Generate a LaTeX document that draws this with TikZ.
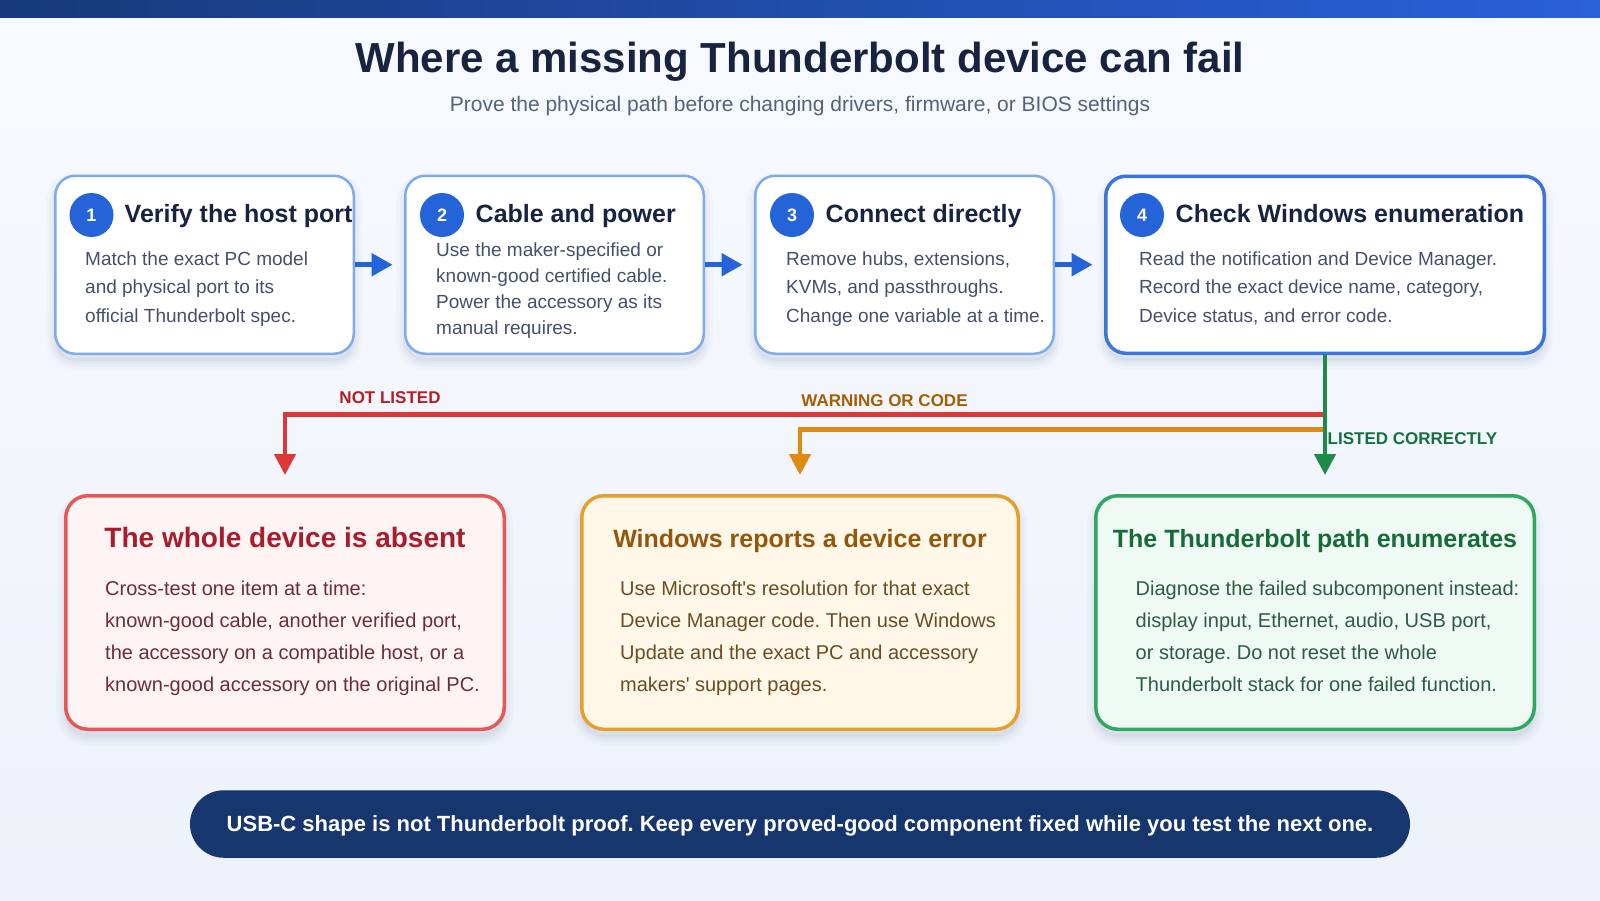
\documentclass[tikz,border=0pt]{standalone}
\usepackage{fontspec}
\setmainfont{Liberation Sans}
\usetikzlibrary{arrows.meta,calc}
\frenchspacing

\definecolor{ink}{HTML}{182340}
\definecolor{muted}{HTML}{56627A}
\definecolor{bodygray}{HTML}{44506A}
\definecolor{stepblue}{HTML}{2563D9}
\definecolor{edgelight}{HTML}{7EAAEE}
\definecolor{edgestrong}{HTML}{3A75DB}
\definecolor{failred}{HTML}{DC3838}
\definecolor{failredtxt}{HTML}{B51F24}
\definecolor{warnorange}{HTML}{DF8A12}
\definecolor{warntxt}{HTML}{A35E06}
\definecolor{okgreen}{HTML}{1E8A4A}
\definecolor{oktxt}{HTML}{15703C}
\definecolor{absentedge}{HTML}{E65757}
\definecolor{absentfill}{HTML}{FFF4F4}
\definecolor{absenttitle}{HTML}{A81D2E}
\definecolor{absentbody}{HTML}{6B2D38}
\definecolor{erroredge}{HTML}{E69F2E}
\definecolor{errorfill}{HTML}{FFF8E8}
\definecolor{errortitle}{HTML}{94560A}
\definecolor{errorbody}{HTML}{6A4D22}
\definecolor{enumedge}{HTML}{2EA862}
\definecolor{enumfill}{HTML}{EEFAF3}
\definecolor{enumtitle}{HTML}{176B3A}
\definecolor{enumbody}{HTML}{2F5B43}
\definecolor{bannerblue}{HTML}{17366E}
\definecolor{barleft}{HTML}{163A7A}
\definecolor{barright}{HTML}{2A60DA}
\definecolor{bgtop}{HTML}{F7FAFF}
\definecolor{bgbottom}{HTML}{EDF2FA}
\definecolor{shadowink}{HTML}{2A3F6A}

\begin{document}
\begin{tikzpicture}[x=1pt,y=-1pt,
  softshadow/.style={
      preaction={draw=shadowink, draw opacity=0.025, line width=18pt, transform canvas={yshift=-7pt}},
      preaction={draw=shadowink, draw opacity=0.03, line width=11pt, transform canvas={yshift=-7pt}},
      preaction={draw=shadowink, draw opacity=0.035, line width=5pt, transform canvas={yshift=-7pt}},
      preaction={fill=shadowink, fill opacity=0.04, transform canvas={yshift=-7pt}}},
  stepcard/.style={draw=edgelight, line width=2.5pt, fill=white,
      rounded corners=20pt, inner sep=0pt, softshadow,
      minimum width=298.5pt, minimum height=178pt},
  outcome/.style={line width=3.5pt, rounded corners=22pt, inner sep=0pt, softshadow,
      minimum width=438.5pt, minimum height=233.5pt},
  badge/.style={circle, fill=stepblue, text=white, minimum size=44pt, inner sep=0pt,
      font=\fontsize{18}{20}\selectfont\bfseries},
  steptitle/.style={anchor=base west, inner sep=0pt, text=ink,
      font=\fontsize{25}{28}\selectfont\bfseries},
  stepbody/.style={anchor=base west, inner sep=0pt, text=bodygray,
      font=\fontsize{19}{22}\selectfont},
  outtitle/.style={anchor=base, inner sep=0pt, font=\fontsize{25}{30}\selectfont\bfseries},
  outbody/.style={anchor=base west, inner sep=0pt, font=\fontsize{20}{24}\selectfont},
  flowarrow/.style={draw=stepblue, line width=5pt,
      -{Triangle[length=21pt,width=22pt]}, shorten >=11.4pt},
  branch/.style={line width=4.5pt, -{Triangle[length=21pt,width=21pt]}, shorten >=19pt},
  branchlabel/.style={inner sep=0pt, font=\fontsize{17}{19}\selectfont\bfseries}
]
\useasboundingbox (0,0) rectangle (1600,900);

% page background and header bar
\fill[top color=bgtop, bottom color=bgbottom] (0,0) rectangle (1600,900);
\fill[left color=barleft, right color=barright] (0,0) rectangle (1600,17);

% heading
\node[anchor=base, inner sep=0pt, text=ink, font=\fontsize{42}{48}\selectfont\bfseries]
  (title) at (800,72) {Where a missing Thunderbolt device can fail};
\node[anchor=base, inner sep=0pt, text=muted, font=\fontsize{21}{24}\selectfont]
  (subtitle) at (800,111) {Prove the physical path before changing drivers, firmware, or BIOS settings};

% four check steps
\node[stepcard] (c1) at (204.5,264.75) {};
\node[stepcard] (c2) at (554.5,264.75) {};
\node[stepcard] (c3) at (904.5,264.75) {};
\node[stepcard, draw=edgestrong, line width=3.5pt, minimum width=438.5pt, minimum height=177pt]
  (c4) at (1325,264.75) {};

\node[badge] (b1) at (91.5,215) {1};
\node[badge] (b2) at (442,215) {2};
\node[badge] (b3) at (792,215) {3};
\node[badge] (b4) at (1142,215) {4};

\node[steptitle] (t1) at (124.5,222.5) {Verify the host port};
\node[steptitle] (t2) at (475.5,222.5) {Cable and power};
\node[steptitle] (t3) at (825.5,222.5) {Connect directly};
\node[steptitle] (t4) at (1175.5,222.5) {Check Windows enumeration};

\foreach \line [count=\i] in {{Match the exact PC model},{and physical port to its},{official Thunderbolt spec.}}
  \node[stepbody] (c1l\i) at (85,265+28.7*\i-28.7) {\line};
\foreach \line [count=\i] in {{Use the maker-specified or},{known-good certified cable.},{Power the accessory as its},{manual requires.}}
  \node[stepbody] (c2l\i) at (436,256.7+25.9*\i-25.9) {\line};
\foreach \line [count=\i] in {{Remove hubs, extensions,},{KVMs, and passthroughs.},{Change one variable at a time.}}
  \node[stepbody] (c3l\i) at (786,265+28.7*\i-28.7) {\line};
\foreach \line [count=\i] in {{Read the notification and Device Manager.},{Record the exact device name, category,},{Device status, and error code.}}
  \node[stepbody] (c4l\i) at (1139,265+28.7*\i-28.7) {\line};

\draw[flowarrow] (c1) -- (c2);
\draw[flowarrow] (c2) -- (c3);
\draw[flowarrow] (c3) -- (c4);

% three outcomes
\node[outcome, draw=absentedge, fill=absentfill] (oa) at (285,612.5) {};
\node[outcome, draw=erroredge, fill=errorfill, minimum width=436.5pt] (ob) at (800,612.5) {};
\node[outcome, draw=enumedge, fill=enumfill] (oc) at (1315,612.5) {};

\node[outtitle, text=absenttitle, font=\fontsize{28}{32}\selectfont\bfseries] (ta) at (285,547) {The whole device is absent};
\node[outtitle, text=errortitle] (tb) at (800,547) {Windows reports a device error};
\node[outtitle, text=enumtitle] (tc) at (1315,547) {The Thunderbolt path enumerates};

\foreach \line [count=\i] in {{Cross-test one item at a time:},{known-good cable, another verified port,},{the accessory on a compatible host, or a},{known-good accessory on the original PC.}}
  \node[outbody, text=absentbody] (oal\i) at (105,595.5+32*\i-32) {\line};
\foreach \line [count=\i] in {{Use Microsoft\textquotesingle s resolution for that exact},{Device Manager code. Then use Windows},{Update and the exact PC and accessory},{makers\textquotesingle{} support pages.}}
  \node[outbody, text=errorbody] (obl\i) at (620,595.5+32*\i-32) {\line};
\foreach \line [count=\i] in {{Diagnose the failed subcomponent instead:},{display input, Ethernet, audio, USB port,},{or storage. Do not reset the whole},{Thunderbolt stack for one failed function.}}
  \node[outbody, text=enumbody] (ocl\i) at (1135.5,595.5+32*\i-32) {\line};

% branches out of the enumeration check
\draw[branch, draw=failred] (c4.south |- 0,414.5) -| (oa.north);
\draw[branch, draw=warnorange] (c4.south |- 0,429.5) -| (ob.north);
\draw[branch, draw=okgreen] (c4.south) -- (c4.south |- oc.north);

\node[branchlabel, text=failredtxt] (lnot) at (390,397.5) {NOT LISTED};
\node[branchlabel, text=warntxt] (lwarn) at (884.5,401) {WARNING OR CODE};
\node[branchlabel, text=oktxt, anchor=west] (lok) at (1327.5,439) {LISTED CORRECTLY};

% closing reminder
\node[fill=bannerblue, rounded corners=33.7pt, minimum width=1220pt, minimum height=67.5pt,
  inner sep=0pt, text depth=0pt, text=white, font=\fontsize{22}{24}\selectfont\bfseries]
  (note) at (800,824) {USB-C shape is not Thunderbolt proof. Keep every proved-good component fixed while you test the next one.};
\end{tikzpicture}
\end{document}
